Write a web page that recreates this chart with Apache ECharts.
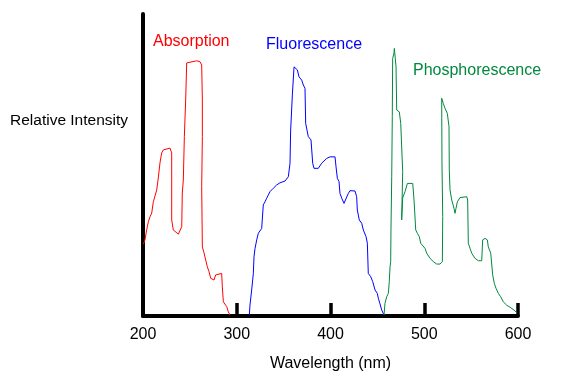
<!DOCTYPE html>
<html>
<head>
<meta charset="utf-8">
<script src="https://cdn.jsdelivr.net/npm/echarts@6/dist/echarts.min.js"></script>
<style>
html,body{margin:0;padding:0;background:#fff;}
#chart{width:580px;height:392px;}
</style>
</head>
<body>
<div id="chart"></div>
<script>
// Wavelength tick labels (nm)
const xTicks = [200, 300, 400, 500, 600];

// Series names
const seriesNames = ['Absorption', 'Fluorescence', 'Phosphorescence'];

// [wavelength (nm), relative intensity (0-100)]
const absorption = [
  [200.3,23.8],[202.1,25.2],[203.9,28.5],[205.7,31.2],[207.5,32.9],[209.3,34.1],
  [211.0,37.8],[212.8,38.4],[214.6,41.7],[216.3,45.7],[218.1,50.7],[219.9,54.0],
  [221.7,55.0],[223.5,55.6],[228.8,55.6],[230.6,54.0],[230.6,46.0],[230.6,31.8],
  [232.3,28.5],[234.1,27.9],[237.7,27.1],[239.5,27.4],[241.3,29.6],[241.9,40.7],
  [243.0,45.0],[244.1,59.4],[245.5,71.5],[246.6,83.8],[248.3,84.4],[257.3,84.5],
  [260.8,84.2],[262.6,83.1],[263.3,71.5],[263.3,59.4],[262.6,42.8],[263.3,22.9],
  [265.1,20.9],[266.9,18.5],[268.6,16.3],[270.4,14.7],[272.2,12.5],[273.3,11.9],
  [275.7,11.9],[277.5,13.6],[279.3,14.1],[283.9,14.1],[284.6,9.7],[285.7,4.7],
  [287.5,4.2],[289.3,3.1],[291.0,1.4],[292.8,0.3]
];

const fluorescence = [
  [313.4,0.3],[314.1,3.6],[315.9,8.6],[317.7,14.1],[318.4,19.6],[319.5,22.4],
  [321.3,25.2],[323.0,27.4],[326.6,29.0],[328.3,29.6],[328.3,36.8],[330.1,37.8],
  [331.9,39.0],[333.7,40.1],[335.5,41.2],[339.0,42.3],[342.6,43.4],[346.1,44.1],
  [351.5,44.7],[355.0,46.1],[356.8,50.6],[357.5,61.6],[359.3,73.2],[361.1,82.5],
  [362.9,83.1],[364.6,81.5],[366.4,79.2],[369.3,78.1],[371.0,76.5],[372.8,75.4],
  [373.5,63.8],[376.3,59.4],[379.2,58.3],[381.0,50.6],[382.4,48.9],[387.0,48.9],
  [390.6,50.6],[396.0,52.2],[399.5,52.7],[404.8,52.7],[405.9,49.4],[407.3,45.6],
  [409.1,44.5],[410.1,40.6],[412.0,39.0],[414.4,37.3],[416.5,37.8],[419.0,40.6],
  [420.8,41.5],[426.1,41.4],[427.9,39.5],[428.6,35.1],[430.7,31.8],[433.3,30.7],
  [435.0,28.5],[437.9,26.3],[439.3,24.1],[440.3,14.1],[442.9,13.0],[445.0,11.4],
  [447.5,8.6],[449.9,7.5],[451.0,5.9],[452.8,4.0],[454.6,2.0],[457.1,0.3]
];

const phosphorescence = [
  [457.1,0.3],[458.1,4.2],[460.0,6.4],[461.7,7.5],[462.7,11.4],[463.5,16.3],
  [464.2,18.0],[464.5,28.5],[465.3,46.1],[465.9,66.0],[466.3,85.3],[467.7,87.0],
  [468.1,88.6],[469.1,88.6],[469.9,82.5],[470.6,68.2],[473.4,67.6],[474.9,63.8],
  [477.0,63.2],[477.0,47.8],[475.9,31.8],[477.0,39.1],[479.5,41.2],[482.0,43.9],
  [487.7,43.9],[489.1,38.4],[490.9,28.5],[492.6,27.4],[494.7,26.3],[496.2,24.1],
  [498.3,23.5],[500.8,22.4],[502.6,20.8],[506.1,19.1],[509.7,18.0],[513.3,17.2],
  [516.8,17.2],[519.3,18.0],[519.7,32.9],[518.9,50.6],[518.6,72.1],[520.3,70.4],
  [522.1,68.8],[524.6,67.1],[526.4,62.7],[526.7,48.3],[527.5,41.7],[529.3,38.4],
  [531.7,35.7],[532.8,34.0],[533.9,35.7],[535.3,37.8],[538.1,39.2],[545.3,39.5],
  [546.3,38.4],[547.0,24.1],[548.8,22.4],[550.6,20.8],[554.1,19.1],[557.7,18.3],
  [561.3,18.3],[562.3,25.2],[564.8,25.7],[567.3,25.2],[568.3,22.9],[570.9,20.8],
  [573.0,13.6],[574.7,10.8],[576.5,9.2],[579.0,7.5],[581.5,6.4],[584.3,4.7],
  [587.9,3.6],[591.5,2.9],[595.7,2.0],[598.6,1.1]
];

const colors = ['#ff0000', '#0000ff', '#00883f'];
const FONT = '"Liberation Sans", Arial, Helvetica, sans-serif';

const chart = echarts.init(document.getElementById('chart'), null, {renderer: 'canvas'});

const mkSeries = (name, data, color) => ({
  name: name,
  type: 'line',
  data: data,
  showSymbol: false,
  symbol: 'none',
  smooth: false,
  lineStyle: {color: color, width: 1},
  itemStyle: {color: color},
  emphasis: {disabled: true},
  z: 3
});

chart.setOption({
  backgroundColor: '#ffffff',
  animation: false,
  grid: {left: 143, right: 62, top: 14, bottom: 76, containLabel: false},
  xAxis: {
    type: 'value',
    min: xTicks[0],
    max: xTicks[xTicks.length - 1],
    interval: 100,
    name: 'Wavelength (nm)',
    nameLocation: 'middle',
    nameGap: 40,
    nameTextStyle: {color: '#000', fontSize: 16, fontFamily: FONT},
    axisLine: {show: true, lineStyle: {color: '#000', width: 4}},
    axisTick: {show: true, inside: true, length: 13, lineStyle: {color: '#000', width: 3.5}},
    axisLabel: {show: true, color: '#000', fontSize: 16, fontFamily: FONT, margin: 11,
                formatter: v => String(v)},
    splitLine: {show: false}
  },
  yAxis: {
    type: 'value',
    min: 0,
    max: 100,
    axisLine: {show: true, lineStyle: {color: '#000', width: 4}},
    axisTick: {show: false},
    axisLabel: {show: false},
    splitLine: {show: false}
  },
  graphic: [
    {type: 'text', left: 10, top: 113, silent: true,
     style: {text: 'Relative Intensity', fill: '#000', fontSize: 15.5, fontFamily: FONT}},
    {type: 'text', left: 153, top: 34, silent: true,
     style: {text: seriesNames[0], fill: colors[0], fontSize: 16, fontFamily: FONT}},
    {type: 'text', left: 266, top: 37, silent: true,
     style: {text: seriesNames[1], fill: colors[1], fontSize: 16, fontFamily: FONT}},
    {type: 'text', left: 413, top: 63, silent: true,
     style: {text: seriesNames[2], fill: colors[2], fontSize: 16, fontFamily: FONT}}
  ],
  series: [
    mkSeries(seriesNames[0], absorption, colors[0]),
    mkSeries(seriesNames[1], fluorescence, colors[1]),
    mkSeries(seriesNames[2], phosphorescence, colors[2])
  ]
});
</script>
</body>
</html>
